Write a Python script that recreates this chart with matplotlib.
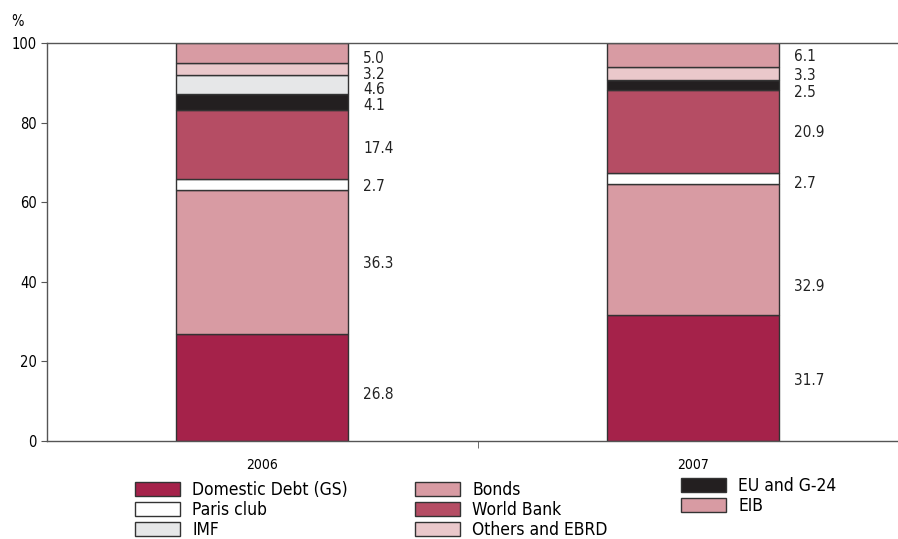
import matplotlib; matplotlib.use("Agg")
import matplotlib.pyplot as plt
import numpy as np
from matplotlib.patches import Patch

plt.rcParams['font.family'] = ['Liberation Sans Narrow', 'DejaVu Sans']
plt.rcParams['font.stretch'] = 'condensed'

years = ["2006", "2007"]
series = ["Domestic Debt (GS)", "Bonds", "Paris club", "World Bank",
          "EU and G-24", "IMF", "Others and EBRD", "EIB"]
vals_2006 = [26.8, 36.3, 2.7, 17.4, 4.1, 4.6, 3.2, 5.0]
vals_2007 = [31.7, 32.9, 2.7, 20.9, 2.5, 0.0, 3.3, 6.1]
colors = ["#a5224a", "#d89ba3", "#ffffff", "#b54d64",
          "#231f20", "#e6e7e8", "#eac8cb", "#d89ba3"]
# label nudges relative to segment centre (layout only)
nudge = [[-1.6, -0.3, -0.4, -0.9, -0.9, -1.4, -1.5, -1.4],
         [-0.6, -9.4, -1.2, -0.2, -1.8, 0.0, -0.4, -0.5]]

fig = plt.figure(figsize=(8.98, 5.39), dpi=100)
ax = fig.add_axes([47/898, 1-441/539, (908-47)/898, (441-43)/539])

x = np.arange(len(years))
w = 0.4
data = np.array([vals_2006, vals_2007])
bottom = np.zeros(len(years))
for j, name in enumerate(series):
    ax.bar(x, data[:, j], w, bottom=bottom, color=colors[j],
           edgecolor="#333333", linewidth=1.0, zorder=2)
    for i in range(len(years)):
        v = data[i, j]
        if v > 0:
            ax.text(x[i] + w/2 + 0.035, bottom[i] + v/2 + nudge[i][j], f"{v:.1f}",
                    ha="left", va="center", fontsize=11, color="#222222")
    bottom += data[:, j]

ax.set_xlim(-0.5, 1.5)
ax.set_ylim(0, 100)
ax.set_yticks([0, 20, 40, 60, 80, 100])
ax.set_xticks(x)
ax.set_xticklabels(years)
ax.set_xticks([0.5], minor=True)
ax.tick_params(axis="x", which="major", length=0, pad=12, labelsize=10)
ax.tick_params(axis="x", which="minor", length=5, direction="out", color="#555555")
ax.tick_params(axis="y", length=4, direction="out", labelsize=10.5, color="#555555")
for s in ["left", "bottom", "top"]:
    ax.spines[s].set_color("#555555")
    ax.spines[s].set_linewidth(1.0)
ax.spines["right"].set_visible(False)

fig.text(18/898, 1-22/539, "%", fontsize=10.5, ha="center", va="center")

# three legend columns placed separately
cols = [([0, 2, 5], 135, 481), ([1, 3, 6], 415, 481), ([4, 7], 681, 477)]
for idx, px, py in cols:
    handles = [Patch(facecolor=colors[k], edgecolor="#333333", linewidth=1.0) for k in idx]
    fig.legend(handles, [series[k] for k in idx], loc="upper left",
               bbox_to_anchor=(px/898, 1-py/539), frameon=False, fontsize=12.5,
               handlelength=2.6, handleheight=0.8, handletextpad=0.7,
               labelspacing=0.12, borderpad=0, borderaxespad=0)

fig.savefig("out.png", dpi=100)
